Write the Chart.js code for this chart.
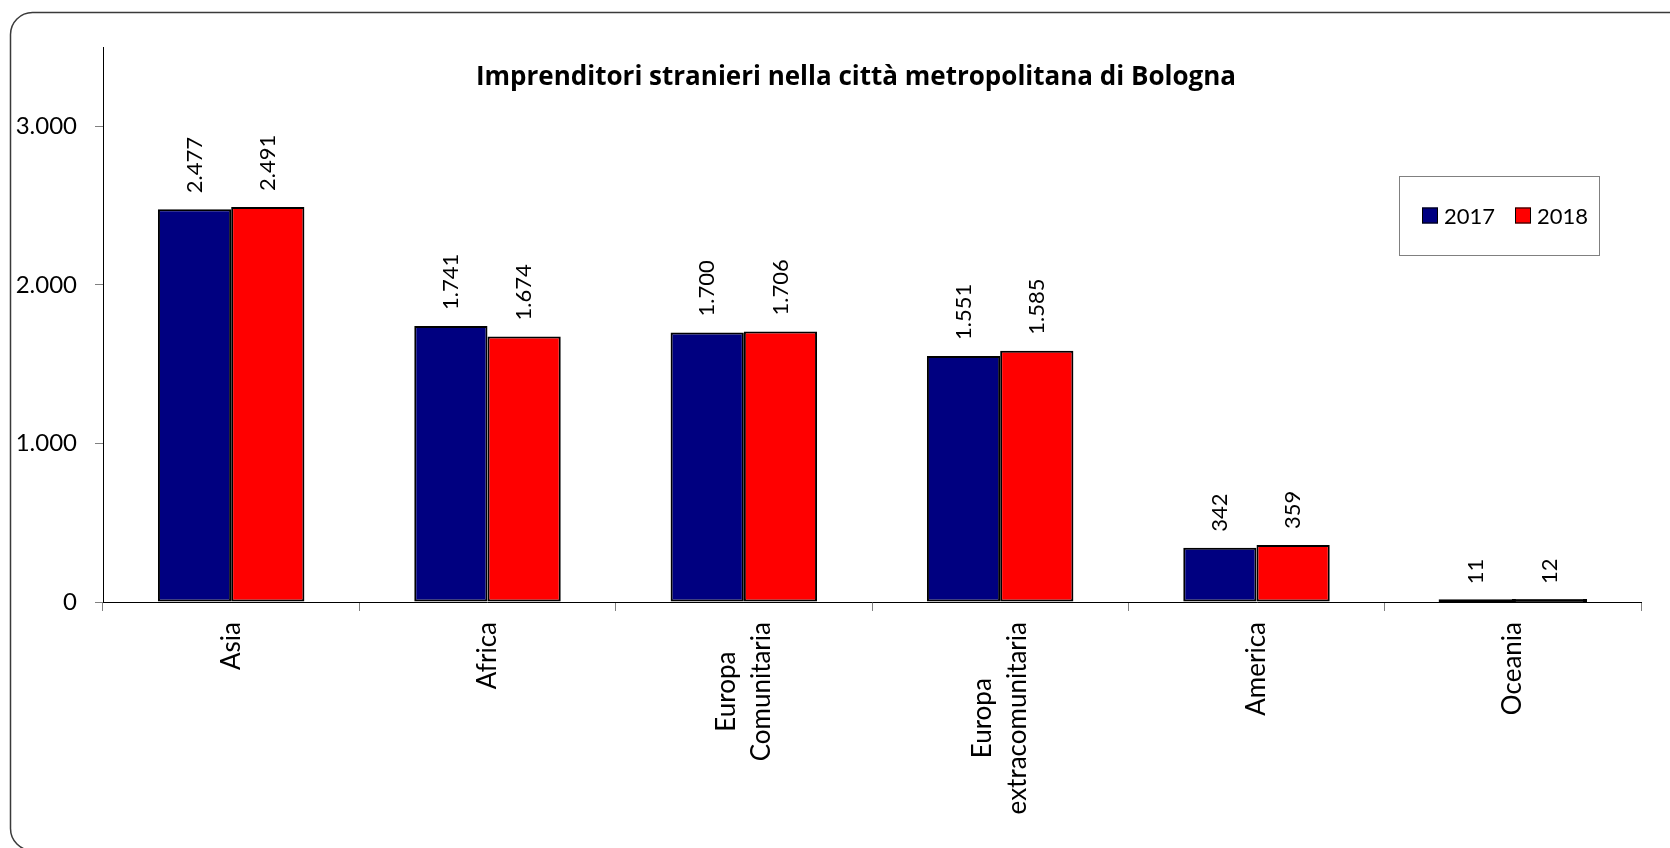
<!DOCTYPE html>
<html>
<head>
<meta charset="utf-8">
<script src="https://cdn.jsdelivr.net/npm/chart.js@4.4.1/dist/chart.umd.min.js"></script>
<style>
  html, body { margin: 0; padding: 0; background: #fff; }
  #wrap { width: 1670px; height: 848px; position: relative; }
</style>
</head>
<body>
<div id="wrap"><canvas id="c" width="1670" height="848"></canvas></div>
<script>
// Foreign entrepreneurs by continent of origin, 2017 vs 2018
const categories = ['Asia', 'Africa', ['Europa', 'Comunitaria'], ['Europa', 'extracomunitaria'], 'America', 'Oceania'];
const series2017 = [2477, 1741, 1700, 1551, 342, 11];
const series2018 = [2491, 1674, 1706, 1585, 359, 12];
const seriesNames = ['2017', '2018'];
const seriesColors = ['#000080', '#ff0000'];
const yTickValues = [0, 1000, 2000, 3000];
const chartTitle = 'Imprenditori stranieri nella città metropolitana di Bologna';

const FONT = 'Lato';

// Italian thousands separator
function fmt(v) {
  return String(v).replace(/\B(?=(\d{3})+(?!\d))/g, '.');
}

// Bars only a pixel or two tall are drawn as a solid outlined strip
function isThin(ctx) {
  const ys = ctx.chart.scales.y;
  if (!ys || ctx.parsed == null) return false;
  return Math.abs(ys.getPixelForValue(0) - ys.getPixelForValue(ctx.parsed.y)) < 4;
}
function barFill(color) {
  return ctx => (isThin(ctx) ? '#000' : color);
}

// Rounded outer frame
const framePlugin = {
  id: 'frame',
  beforeDraw(chart) {
    const ctx = chart.ctx;
    ctx.save();
    ctx.fillStyle = '#fff';
    ctx.fillRect(0, 0, chart.width, chart.height);
    ctx.beginPath();
    ctx.roundRect(10.5, 12.5, 1720, 838, 22);
    ctx.strokeStyle = '#3a3a3a';
    ctx.lineWidth = 1.5;
    ctx.stroke();
    ctx.restore();
  }
};

// Title overlaid at the top of the plot area
const titlePlugin = {
  id: 'overTitle',
  afterDraw(chart) {
    const ctx = chart.ctx;
    ctx.save();
    ctx.font = 'bold 26px "Open Sans"';
    ctx.fillStyle = '#000';
    ctx.textAlign = 'center';
    ctx.textBaseline = 'alphabetic';
    ctx.fillText(chartTitle, 856, 85);
    ctx.restore();
  }
};

// Vertical value labels above each bar
const valueLabelsPlugin = {
  id: 'valueLabels',
  afterDatasetsDraw(chart) {
    const ctx = chart.ctx;
    ctx.save();
    ctx.font = '22px ' + FONT;
    ctx.fillStyle = '#000';
    ctx.textAlign = 'left';
    ctx.textBaseline = 'middle';
    chart.data.datasets.forEach((ds, di) => {
      const meta = chart.getDatasetMeta(di);
      meta.data.forEach((bar, i) => {
        ctx.save();
        ctx.translate(bar.x, bar.y - 16);
        ctx.rotate(-Math.PI / 2);
        ctx.fillText(fmt(ds.data[i]), 0, 0);
        ctx.restore();
      });
    });
    ctx.restore();
  }
};

// Rotated category labels, lines centred on each other
const categoryLabelsPlugin = {
  id: 'categoryLabels',
  afterDraw(chart) {
    const ctx = chart.ctx;
    const xs = chart.scales.x;
    const top = chart.chartArea.bottom + 20;
    const lineH = 35;
    ctx.save();
    ctx.font = '26px ' + FONT;
    ctx.fillStyle = '#000';
    ctx.textAlign = 'center';
    ctx.textBaseline = 'middle';
    chart.data.labels.forEach((lab, i) => {
      const lines = Array.isArray(lab) ? lab : [lab];
      const maxW = Math.max(...lines.map(l => ctx.measureText(l).width));
      const x = xs.getPixelForValue(i);
      ctx.save();
      ctx.translate(x, top);
      ctx.rotate(-Math.PI / 2);
      lines.forEach((l, k) => {
        ctx.fillText(l, -maxW / 2, (k - (lines.length - 1) / 2) * lineH);
      });
      ctx.restore();
    });
    ctx.restore();
  }
};

// Boxed legend inside the plot area
const legendBoxPlugin = {
  id: 'legendBox',
  afterDraw(chart) {
    const ctx = chart.ctx;
    const bx = 1399.5, by = 176.5, bw = 200, bh = 79;
    ctx.save();
    ctx.fillStyle = '#fff';
    ctx.fillRect(bx, by, bw, bh);
    ctx.strokeStyle = '#808080';
    ctx.lineWidth = 1;
    ctx.strokeRect(bx, by, bw, bh);
    ctx.font = '22px ' + FONT;
    ctx.textAlign = 'left';
    ctx.textBaseline = 'middle';
    const cy = 215.5;
    const starts = [1422, 1515];
    chart.data.datasets.forEach((ds, i) => {
      const sx = starts[i];
      ctx.fillStyle = seriesColors[i];
      ctx.fillRect(sx, cy - 8, 16, 16);
      ctx.strokeStyle = '#000';
      ctx.lineWidth = 1;
      ctx.strokeRect(sx + 0.5, cy - 7.5, 15, 15);
      ctx.fillStyle = '#000';
      ctx.fillText(ds.label, sx + 22, cy + 1);
    });
    ctx.restore();
  }
};

new Chart(document.getElementById('c'), {
  type: 'bar',
  data: {
    labels: categories,
    datasets: [
      { label: seriesNames[0], data: series2017, backgroundColor: barFill(seriesColors[0]) },
      { label: seriesNames[1], data: series2018, backgroundColor: barFill(seriesColors[1]) }
    ]
  },
  options: {
    responsive: false,
    animation: false,
    devicePixelRatio: 1,
    layout: { padding: { top: 47, right: 29, bottom: 0, left: 0 } },
    datasets: {
      bar: {
        categoryPercentage: 4 / 7,
        barPercentage: 1,
        borderColor: '#000',
        borderWidth: 2,
        borderSkipped: false,
        inflateAmount: ctx => (isThin(ctx) ? 1 : 0)
      }
    },
    plugins: {
      legend: { display: false },
      title: { display: false },
      tooltip: { enabled: false }
    },
    scales: {
      x: {
        grid: { drawOnChartArea: false, tickLength: 9, color: '#808080', offset: true },
        border: { color: '#000', width: 1 },
        ticks: { display: false },
        afterFit(s) { s.height = 246; }
      },
      y: {
        min: 0,
        max: 3500,
        afterBuildTicks(s) { s.ticks = yTickValues.map(v => ({ value: v })); },
        grid: { drawOnChartArea: false, tickLength: 8, color: '#808080' },
        border: { color: '#000', width: 1 },
        ticks: {
          padding: 18,
          color: '#000',
          font: { family: FONT, size: 24 },
          callback: v => fmt(v)
        },
        afterFit(s) { s.width = 103; }
      }
    }
  },
  plugins: [framePlugin, valueLabelsPlugin, categoryLabelsPlugin, titlePlugin, legendBoxPlugin]
});
</script>
</body>
</html>
